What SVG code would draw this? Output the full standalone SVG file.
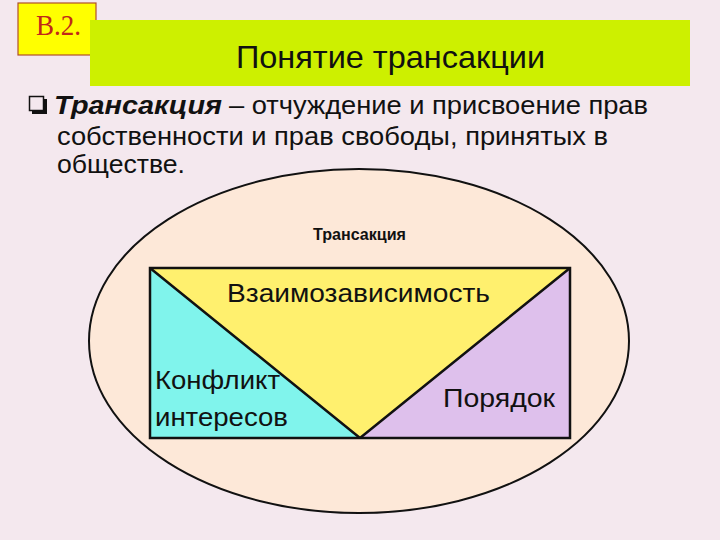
<svg xmlns="http://www.w3.org/2000/svg" width="720" height="540" viewBox="0 0 720 540">
<style>
.sans{font-family:"Liberation Sans","DejaVu Sans",sans-serif;fill:#111}
.line{stroke:#111;stroke-width:2.5;fill:none}
</style>
<rect x="0" y="0" width="720" height="540" fill="#f4e8ee"/>
<g id="badge">
<rect x="18" y="3" width="78" height="52" fill="#ffff00" stroke="#b0502a" stroke-width="1.2"/>
<text x="36" y="35" font-family="Liberation Serif,serif" font-size="29" fill="#c0281a" textLength="45" lengthAdjust="spacingAndGlyphs">B.2.</text>
</g>
<g id="title">
<rect x="90" y="20" width="600" height="66" fill="#cdf000"/>
<text class="sans" x="236" y="68" font-size="32" textLength="309" lengthAdjust="spacingAndGlyphs">Понятие трансакции</text>
</g>
<g id="definition">
<rect x="32" y="99" width="15" height="15" fill="#111"/>
<rect x="29.5" y="96.5" width="14" height="14" fill="#f4e8ee" stroke="#111" stroke-width="1.5"/>
<text class="sans" x="54" y="114" font-size="25" font-weight="bold" font-style="italic" textLength="168" lengthAdjust="spacingAndGlyphs">Трансакция</text>
<text class="sans" x="229" y="114" font-size="25" textLength="419" lengthAdjust="spacingAndGlyphs">– отчуждение и присвоение прав</text>
<text class="sans" x="57" y="145" font-size="25" textLength="551" lengthAdjust="spacingAndGlyphs">собственности и прав свободы, принятых в</text>
<text class="sans" x="57" y="173" font-size="25" textLength="128" lengthAdjust="spacingAndGlyphs">обществе.</text>
</g>
<g id="transaction">
<ellipse cx="359" cy="341" rx="270" ry="172" fill="#fde8d8" stroke="#111" stroke-width="2"/>
<text class="sans" x="359.5" y="240" font-size="16" font-weight="bold" text-anchor="middle" textLength="93" lengthAdjust="spacingAndGlyphs">Трансакция</text>
</g>
<g id="conflict">
<polygon points="150,268 360,438 150,438" fill="#80f4ec"/>
<text class="sans" x="155" y="389" font-size="25" textLength="125" lengthAdjust="spacingAndGlyphs">Конфликт</text>
<text class="sans" x="155" y="426" font-size="25" textLength="133" lengthAdjust="spacingAndGlyphs">интересов</text>
</g>
<g id="order">
<polygon points="570,268 570,438 360,438" fill="#dec0ec"/>
<text class="sans" x="443" y="407" font-size="25" textLength="112" lengthAdjust="spacingAndGlyphs">Порядок</text>
</g>
<g id="interdependence">
<polygon points="150,268 570,268 360,438" fill="#fff06e"/>
<text class="sans" x="227" y="302" font-size="25" textLength="263" lengthAdjust="spacingAndGlyphs">Взаимозависимость</text>
</g>
<g id="connectors">
<rect class="line" x="150" y="268" width="420" height="170"/>
<path class="line" d="M150,268 L360,438 L570,268" stroke-linejoin="bevel"/>
</g>
</svg>
